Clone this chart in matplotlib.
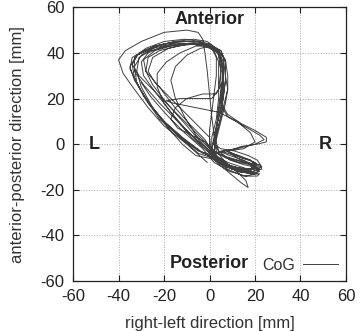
import matplotlib
matplotlib.use("Agg")
import matplotlib.pyplot as plt

plt.rcParams['font.family'] = ['Liberation Sans', 'DejaVu Sans']
plt.rcParams['axes.unicode_minus'] = False

# CoG trajectory (right-left x, anterior-posterior y) in mm;
# one row per gait loop
cog_x = [
    -1, -10, -20, -27, -33, -38, -40, -37, -30, -20, -10, -5, -3, -2, -1, 0, 1, 2, 4, 9, 15, 20, 22, 19, 12, 5,
    -1, -8, -15, -22, -29, -33, -33, -28, -20, -11, -4, 1, 4, 5, 5, 4, 3, 2, 5, 11, 17, 21, 23, 19, 10, 3,
    -4, -12, -20, -27, -32, -33, -30, -23, -14, -5, 1, 5, 7, 7, 6, 4, 2, 1, 5, 12, 18, 22, 21, 15, 8, 1,
    0, -6, -12, -18, -24, -27, -25, -18, -9, -2, 3, 6, 7, 8, 6, 4, 2, 4, 9, 15, 19, 20, 15, 8, 2,
    -5, -13, -22, -29, -33, -34, -31, -24, -15, -6, 0, 4, 6, 6, 5, 8, 14, 20, 25, 25, 21, 14, 8, 12, 18, 22, 20, 13, 5,
    -2, -9, -17, -25, -31, -34, -32, -25, -16, -7, 0, 4, 5, 4, 1, -6, -13, -19, -16, -6, 4, 12, 18, 20, 15, 8, 14, 20, 22, 17, 8,
    -1, -8, -14, -20, -23, -23, -19, -13, -6, 0, 4, 6, 6, 3, -3, -10, -15, -17, -14, -8, -2, 2, 8, 15, 20, 18, 11, 4,
    -5, -13, -21, -28, -33, -35, -32, -24, -15, -7, -1, 3, 5, 6, 6, 4, 2, 3, 7, 12, 16, 17, 14, 8, 2,
    0, -6, -11, -15, -17, -15, -10, -4, 1, 5, 7, 7, 6, 5, 3, 2, 7, 13, 18, 19, 14, 7, 2,
    -3, -10, -17, -24, -29, -30, -27, -20, -12, -4, 1, 3, 3, 2, 1, 0, 0, 3, 9, 16, 22, 23, 19, 11, 4,
    -6, -12, -19, -25, -30, -32, -31, -26, -18, -9, -2, 2, 4, 4, 4, 3, 1, 1, 6, 13, 19, 21, 18, 11, 4,
    -2, -9, -16, -22, -28, -29, -24, -17, -9, -1, 4, 7, 8, 8, 7, 5, 3, 2, 7, 13, 18, 21, 17, 10, 3,
    -3, -10, -18, -25, -28, -27, -22, -14, -6, 0, 4, 6, 6, 5, 8, 15, 22, 24, 20, 12, 5, 11, 18, 21, 18, 10, 3,
    -3, -11, -19, -26, -31, -35, -34, -29, -20, -10, -3, 2, 5, 6, 5, 4, 3, 1, 4, 10, 17, 20, 16, 9, 2,
    -3, -11, -19, -26, -30,
]
cog_y = [
    -8, 0, 8, 16, 24, 31, 37, 41, 45, 49, 50, 49, 46, 40, 32, 22, 12, 4, -3, -7, -9, -10, -12, -13, -12, -8,
    -2, 4, 11, 18, 26, 32, 38, 42, 45, 46, 45, 43, 39, 32, 24, 15, 7, 0, -2, -3, -5, -7, -10, -12, -11, -7,
    -3, 3, 10, 18, 27, 34, 39, 43, 45, 45, 43, 41, 36, 28, 20, 11, 3, -3, -8, -11, -13, -13, -14, -14, -11, -6,
    3, 9, 15, 21, 27, 32, 38, 42, 44, 44, 42, 38, 30, 24, 16, 8, 0, -3, -5, -7, -9, -11, -11, -9, -5,
    -3, 3, 11, 21, 29, 35, 40, 43, 45, 45, 44, 41, 34, 26, 18, 13, 9, 6, 3, 1, 0, -1, -3, -6, -9, -11, -13, -12, -8,
    1, 8, 16, 24, 30, 35, 39, 42, 44, 44, 43, 40, 32, 24, 20, 20, 20, 19, 18, 16, 14, 10, 5, 1, -2, -3, -6, -8, -10, -11, -8,
    -3, 3, 10, 18, 25, 31, 36, 40, 43, 43, 41, 36, 28, 22, 22, 20, 16, 11, 7, 4, 1, -3, -6, -8, -9, -11, -11, -7,
    -4, 3, 11, 20, 28, 34, 39, 43, 45, 46, 45, 42, 37, 29, 21, 12, 4, -3, -8, -12, -16, -19, -17, -12, -7,
    -2, 4, 12, 20, 28, 34, 39, 42, 43, 41, 36, 28, 20, 12, 4, -3, -6, -8, -9, -11, -12, -10, -6,
    -1, 6, 14, 23, 30, 36, 40, 43, 44, 44, 42, 38, 30, 22, 14, 6, -1, -4, -6, -8, -9, -11, -12, -11, -7,
    -5, 0, 8, 16, 25, 32, 38, 41, 43, 44, 43, 41, 36, 28, 20, 11, 3, -4, -9, -12, -13, -13, -12, -10, -8,
    2, 9, 17, 25, 32, 37, 41, 43, 44, 43, 41, 37, 30, 24, 18, 10, 2, -4, -3, -5, -7, -10, -12, -11, -6,
    0, 8, 17, 26, 32, 38, 41, 43, 44, 43, 40, 33, 25, 17, 12, 8, 4, 2, 0, -2, -3, -5, -7, -9, -11, -10, -6,
    -4, 2, 9, 17, 25, 33, 38, 41, 44, 45, 44, 42, 38, 30, 22, 14, 6, -2, -6, -10, -12, -13, -14, -12, -8,
    -2, 5, 13, 21, 27,
]

ticks = [-60, -40, -20, 0, 20, 40, 60]

fig = plt.figure(figsize=(3.6, 3.31), dpi=100)
ax = fig.add_axes([0.203, 0.151, 0.758, 0.827])

ax.plot(cog_x, cog_y, color='#404040', linewidth=0.7, label='CoG')

ax.set_xlim(-60, 60)
ax.set_ylim(-60, 60)
ax.set_xticks(ticks)
ax.set_yticks(ticks)
ax.tick_params(direction='in', top=True, right=True, length=4, pad=6, labelsize=12, colors='#222222')
ax.grid(True, linestyle=':', color='#aaaaaa', linewidth=0.7)
for s in ax.spines.values():
    s.set_color('#222222')
    s.set_linewidth(0.9)

ax.set_xlabel('right-left direction [mm]', fontsize=12, color='#333333')
ax.set_ylabel('anterior-posterior direction [mm]', fontsize=12, color='#333333')
ax.xaxis.set_label_coords(0.5, -0.128)
ax.yaxis.set_label_coords(-0.176, 0.5)

ax.text(0, 54.5, 'Anterior', ha='center', va='center', fontsize=13, fontweight='bold', color='#222222')
ax.text(0, -52.5, 'Posterior', ha='center', va='center', fontsize=13, fontweight='bold', color='#222222')
ax.text(-50.5, 0, 'L', ha='center', va='center', fontsize=13, fontweight='bold', color='#222222')
ax.text(51, 0, 'R', ha='center', va='center', fontsize=13, fontweight='bold', color='#222222')

leg = ax.legend(loc='lower right', frameon=False, markerfirst=False, fontsize=11.5,
                handlelength=2.2, handletextpad=0.5, borderpad=0.2, borderaxespad=0.3,
                bbox_to_anchor=(1.0, 0.0))
for t in leg.get_texts():
    t.set_color('#333333')

fig.savefig('out.png', dpi=100)
